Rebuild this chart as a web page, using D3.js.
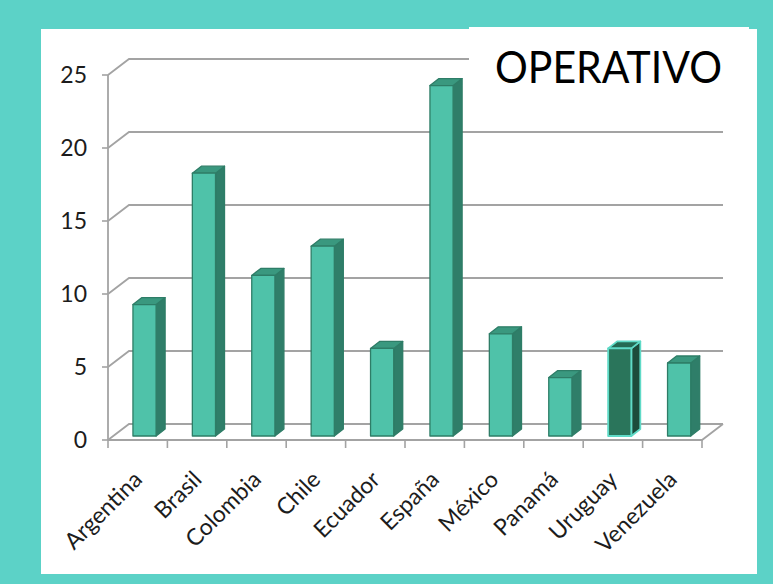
<!DOCTYPE html>
<html>
<head>
<meta charset="utf-8">
<script src="https://cdn.jsdelivr.net/npm/d3@7"></script>
<style>
  html, body { margin: 0; padding: 0; background: #5cd2c7; }
  svg { display: block; }
  text { font-family: Lato, "Open Sans", sans-serif; }
</style>
</head>
<body>
<svg id="chart" width="773" height="584"></svg>
<script>
// Countries and their counts
const countries = ["Argentina", "Brasil", "Colombia", "Chile", "Ecuador", "España", "México", "Panamá", "Uruguay", "Venezuela"];
const values = [9, 18, 11, 13, 6, 24, 7, 4, 6, 5];
const yTicks = [0, 5, 10, 15, 20, 25];
const highlighted = ["Uruguay"];
const title = "OPERATIVO";

const svg = d3.select("#chart");
const W = 773, H = 584;

// Frame: teal backdrop, white card, and title tab
svg.append("rect").attr("width", W).attr("height", H).attr("fill", "#5cd2c7");
svg.append("rect").attr("x", 41).attr("y", 29).attr("width", 716).attr("height", 545).attr("fill", "#ffffff");

// Plot geometry (3D column chart look)
const left = 108, right = 702;
const depthX = 21, depthY = -16;     // wall depth offset
const barDX = 9, barDY = -7;          // column depth offset
const barShiftY = -4;                 // columns sit slightly behind the front edge

const x = d3.scaleBand().domain(countries).range([left, right]).paddingInner(0).paddingOuter(0);
const y = d3.scaleLinear().domain([0, 25]).range([440, 75]);

const grid = svg.append("g");
const gridColor = "#a3a3a3";

// Back-wall gridlines with their diagonal returns to the front axis
yTicks.forEach(v => {
  const yy = y(v);
  grid.append("path")
    .attr("d", `M${left},${yy} L${left + depthX},${yy + depthY} L${right + depthX},${yy + depthY}`)
    .attr("fill", "none").attr("stroke", gridColor).attr("stroke-width", 1.8);
  // y tick
  grid.append("line")
    .attr("x1", left - 6).attr("x2", left).attr("y1", yy).attr("y2", yy)
    .attr("stroke", gridColor).attr("stroke-width", 1.6);
});

// Front vertical axis
grid.append("line")
  .attr("x1", left).attr("x2", left).attr("y1", y(0)).attr("y2", y(25))
  .attr("stroke", gridColor).attr("stroke-width", 1.8);

// Floor front edge and right return
grid.append("path")
  .attr("d", `M${left},${y(0)} L${right},${y(0)} L${right + depthX},${y(0) + depthY}`)
  .attr("fill", "none").attr("stroke", gridColor).attr("stroke-width", 1.8);

// Category ticks at band boundaries
const boundaries = countries.map(c => x(c)).concat([right]);
boundaries.forEach(bx => {
  grid.append("line")
    .attr("x1", bx).attr("x2", bx).attr("y1", y(0)).attr("y2", y(0) + 8)
    .attr("stroke", gridColor).attr("stroke-width", 1.6);
});

// Y labels
svg.append("g").selectAll("text").data(yTicks).join("text")
  .attr("x", 87).attr("y", d => y(d))
  .attr("dy", "0.36em")
  .attr("text-anchor", "end")
  .attr("font-size", 23)
  .attr("fill", "#1c1c1c")
  .text(d => d);

// Columns
const bw = x.bandwidth();
const barW = bw * 0.39;
const bars = svg.append("g");
countries.forEach((c, i) => {
  const v = values[i];
  const hl = highlighted.includes(c);
  const x0 = x(c) + bw * 0.42;
  const x1 = x0 + barW;
  const yb = y(0) + barShiftY;
  const yt = y(v) + barShiftY;
  const front = hl ? "#2a755b" : "#4fc2a9";
  const side = hl ? "#1c4b3b" : "#2f7e69";
  const top = hl ? "#246a54" : "#3a987f";
  const edge = hl ? "#5fdac7" : "#2e7d67";
  const g = bars.append("g").attr("stroke", edge).attr("stroke-width", hl ? 1.8 : 1.3).attr("stroke-linejoin", "round");
  // side face
  g.append("path")
    .attr("d", `M${x1},${yb} L${x1 + barDX},${yb + barDY} L${x1 + barDX},${yt + barDY} L${x1},${yt} Z`)
    .attr("fill", side);
  // top face
  g.append("path")
    .attr("d", `M${x0},${yt} L${x0 + barDX},${yt + barDY} L${x1 + barDX},${yt + barDY} L${x1},${yt} Z`)
    .attr("fill", top);
  // front face
  g.append("rect")
    .attr("x", x0).attr("y", yt).attr("width", barW).attr("height", yb - yt)
    .attr("fill", front);
});

// Rotated category labels
svg.append("g").selectAll("text").data(countries).join("text")
  .attr("transform", d => `translate(${x(d) + bw / 2 + 6},${481}) rotate(-45)`)
  .attr("text-anchor", "end")
  .attr("font-size", 23)
  .attr("fill", "#1c1c1c")
  .text(d => d);

// Title tab
svg.append("rect").attr("x", 469).attr("y", 27).attr("width", 280).attr("height", 80).attr("fill", "#ffffff");
svg.append("text")
  .attr("x", 495).attr("y", 83)
  .attr("font-size", 45)
  .attr("textLength", 227)
  .attr("lengthAdjust", "spacingAndGlyphs")
  .attr("fill", "#000000")
  .text(title);
</script>
</body>
</html>
